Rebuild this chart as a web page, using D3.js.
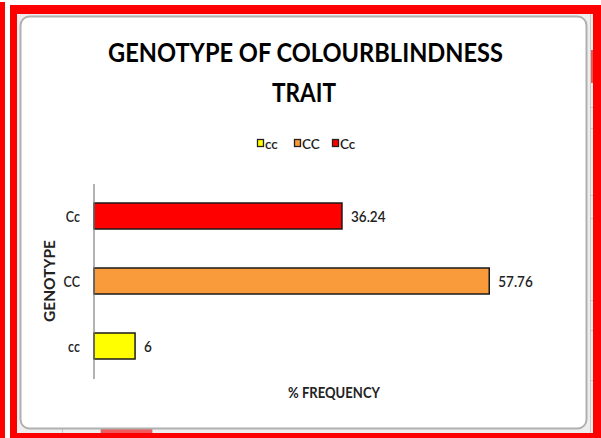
<!DOCTYPE html>
<html><head><meta charset="utf-8">
<script src="https://cdn.jsdelivr.net/npm/d3@7"></script>
<style>body{margin:0;background:#fff}svg{display:block}</style>
</head><body>
<script>
const categories = ["cc", "CC", "Cc"];
const values = [6, 57.76, 36.24];
const valueLabels = ["6", "57.76", "36.24"];
const colors = ["#ffff00", "#f99b3a", "#ff0000"];
const titleLines = ["GENOTYPE OF COLOURBLINDNESS", "TRAIT"];
const xTitle = "% FREQUENCY";
const yTitle = "GENOTYPE";

const W = 601, H = 438;
const svg = d3.select("body").append("svg").attr("width", W).attr("height", H);
const FONT = "Lato, 'Open Sans', sans-serif";

function txt(g, x, y, s, o) {
  const sy = o.sy || 1.3;
  const t = g.append("text")
    .attr("transform", `translate(${x},${y})` + (o.rot ? ` rotate(${o.rot})` : "") + ` scale(1,${sy})`)
    .attr("font-family", FONT)
    .attr("font-size", o.size)
    .attr("font-weight", o.weight || "normal")
    .attr("text-anchor", o.anchor || "start")
    .attr("fill", o.fill || "#1a1a1a")
    .text(s);
  if (o.len) t.attr("textLength", o.len).attr("lengthAdjust", "spacingAndGlyphs");
  return t;
}

// surrounding screenshot frame
svg.append("rect").attr("x", 0).attr("y", 2).attr("width", 5).attr("height", 436).attr("fill", "#ff0000");
svg.append("rect").attr("x", 10).attr("y", 5).attr("width", 591).attr("height", 433).attr("fill", "#ff0000");
svg.append("rect").attr("x", 17).attr("y", 14).attr("width", 576).attr("height", 419).attr("fill", "#eeeeee");
// spreadsheet bits
const bg = svg.append("g").attr("stroke", "#c8c8c8").attr("stroke-width", 1);
bg.append("line").attr("x1", 590.5).attr("x2", 590.5).attr("y1", 14).attr("y2", 433);
[62.5, 100.5, 152.5].forEach(x => bg.append("line").attr("x1", x).attr("x2", x).attr("y1", 428).attr("y2", 433));
[107.5, 128.5, 195.5, 218.5, 300.5, 330.5, 380.5].forEach(y => bg.append("line").attr("x1", 590).attr("x2", 593).attr("y1", y).attr("y2", y));
svg.append("rect").attr("x", 101).attr("y", 429).attr("width", 51).attr("height", 4).attr("fill", "#f05a5a");
svg.append("rect").attr("x", 591).attr("y", 50).attr("width", 2).attr("height", 33).attr("fill", "#e05a5a");

// chart area
svg.append("rect").attr("x", 20.5).attr("y", 16.5).attr("width", 566).attr("height", 412)
  .attr("rx", 9).attr("fill", "#ffffff").attr("stroke", "#b0b0b0").attr("stroke-width", 2);

// title
txt(svg, 305.5, 62, titleLines[0], {size: 20, weight: "bold", anchor: "middle", len: 395, fill: "#000"});
txt(svg, 304, 102, titleLines[1], {size: 20, weight: "bold", anchor: "middle", len: 64, fill: "#000"});

// legend
const legX = [257, 294, 332];
categories.forEach((c, i) => {
  svg.append("rect").attr("x", legX[i] + 0.5).attr("y", 139.5).attr("width", 6).attr("height", 7)
    .attr("fill", colors[i]).attr("stroke", "#222").attr("stroke-width", 1.3);
  txt(svg, legX[i] + 8, 148.5, c, {size: 13.5, fill: "#222", sy: 1.0, weight: 600});
});

// scales
const x = d3.scaleLinear().domain([0, 70]).range([94, 573]);
const y = d3.scaleBand().domain(categories.slice().reverse()).range([183.5, 378.5]).paddingInner(0.6).paddingOuter(0.3);

// bars
svg.append("g").selectAll("rect").data(categories).join("rect")
  .attr("x", x(0))
  .attr("y", (d) => y(d))
  .attr("width", (d, i) => x(values[i]) - x(0))
  .attr("height", y.bandwidth())
  .attr("fill", (d, i) => colors[i])
  .attr("stroke", "#1a1a1a").attr("stroke-width", 1.5);

// value labels
const lg = svg.append("g");
categories.forEach((c, i) => {
  txt(lg, x(values[i]) + 9, y(c) + y.bandwidth() / 2 + 5.5, valueLabels[i], {size: 13.5, fill: "#222", sy: 1.15, weight: 600});
});

// y axis
const yAxis = d3.axisLeft(y).tickSize(0).tickPadding(0);
const ag = svg.append("g").attr("transform", `translate(93.5,0)`).call(yAxis);
ag.select(".domain").attr("stroke", "#7f7f7f").attr("stroke-width", 1.2);
ag.selectAll(".tick text").remove();
ag.selectAll(".tick").each(function(d) {
  txt(d3.select(this), -13.5, 5.5, d, {size: 12.5, anchor: "end", fill: "#222", sy: 1.2, weight: 600});
});

// axis titles
txt(svg, 334, 398, xTitle, {size: 11, weight: "bold", anchor: "middle", len: 92, fill: "#222"});
txt(svg, 54.5, 281, yTitle, {size: 11, weight: "bold", anchor: "middle", len: 82, fill: "#222", rot: -90});
</script>
</body></html>
